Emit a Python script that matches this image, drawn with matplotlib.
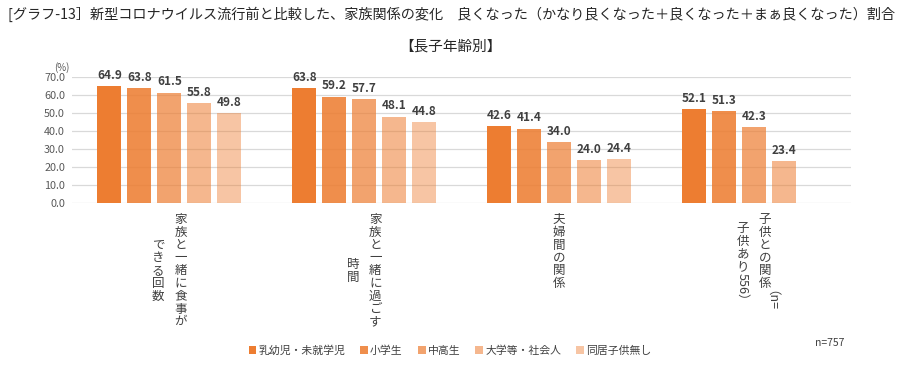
import numpy as np
import matplotlib
matplotlib.use('Agg')
import matplotlib.pyplot as plt
import matplotlib.transforms as mtransforms
from matplotlib.patches import Patch

plt.rcParams['font.family'] = ['Noto Sans CJK JP', 'DejaVu Sans']

# data
categories = ['家族と一緒に食事が\nできる回数',
              '家族と一緒に過ごす\n時間',
              '夫婦間の関係',
              '子供との関係（n=\n子供あり556）']
series_names = ['乳幼児・未就学児', '小学生', '中高生', '大学等・社会人', '同居子供無し']
v_infant = [64.9, 63.8, 42.6, 52.1]
v_elem = [63.8, 59.2, 41.4, 51.3]
v_mid = [61.5, 57.7, 34.0, 42.3]
v_univ = [55.8, 48.1, 24.0, 23.4]
v_none = [49.8, 44.8, 24.4, np.nan]
yticks = [0, 10, 20, 30, 40, 50, 60, 70]

values = [v_infant, v_elem, v_mid, v_univ, v_none]
alphas = [1.0, 0.87, 0.70, 0.55, 0.44]
base = '#ED7D31'

fig = plt.figure(figsize=(9.0, 3.65), dpi=100)
fig.patch.set_facecolor('white')
ax = fig.add_axes([0.08, 0.4447, 0.8656, 0.3435])

x = np.arange(len(categories))
step = 30 / 195.
width = 24 / 195.
for k, vals in enumerate(values):
    pos = x + (k - 2) * step
    ax.bar(pos, vals, width, color=base, alpha=alphas[k], zorder=2,
           label=series_names[k])
    for px, v in zip(pos, vals):
        if np.isnan(v):
            continue
        ax.annotate('%.1f' % v, (px, v), xytext=(0, 3), textcoords='offset points',
                    ha='center', va='bottom', fontsize=8.5, fontweight='bold',
                    color='#404040')

ax.set_xlim(-0.5, len(categories) - 0.5)
ax.set_ylim(0, 70)
ax.set_yticks(yticks)
ax.set_yticklabels(['%.1f' % t for t in yticks], fontsize=7.8, color='#595959')
ax.set_xticks([])
ax.tick_params(axis='y', length=0, pad=5)
ax.grid(axis='y', color='#D9D9D9', linewidth=0.9)
ax.set_axisbelow(True)
for s in ax.spines.values():
    s.set_visible(False)

ax.text(-0.003, 1.035, '(%)', transform=ax.transAxes, fontsize=7, color='#595959',
        ha='right', va='bottom')

# vertical (tategaki) category labels
trans = mtransforms.blended_transform_factory(ax.transData, ax.transAxes)
fs = 9.0
char_h = 9.2      # points per upright character
col_gap = 16.0    # points between columns
top_off = -7.5    # points below axis bottom


def is_upright(c):
    return ord(c) > 0x2E80 and c not in '（）＝'


def col_length(col):
    n = 0.0
    for c in col:
        if is_upright(c) or c in '（）':
            n += char_h
        else:
            n += fs * 0.58
    return n


for i, lab in enumerate(categories):
    cols = lab.split('\n')
    longest = max(col_length(c) for c in cols)
    ncol = len(cols)
    for j, col in enumerate(cols):
        dx = ((ncol - 1) / 2.0 - j) * col_gap
        y = top_off - (longest - col_length(col)) / 2.0
        run = ''
        chars = list(col) + [None]
        for c in chars:
            if c is not None and not is_upright(c):
                run += c
                continue
            if run:
                ax.annotate(run, (i, 0), xycoords=trans, xytext=(dx, y),
                            textcoords='offset points', rotation=270,
                            ha='center', va='top', fontsize=fs, color='#404040')
                y -= col_length(run)
                run = ''
            if c is None:
                break
            ax.annotate(c, (i, 0), xycoords=trans, xytext=(dx, y),
                        textcoords='offset points', ha='center', va='top',
                        fontsize=fs, color='#404040')
            y -= char_h

fig.text(0.009, 0.962, '[グラフ-13］新型コロナウイルス流行前と比較した、家族関係の変化　良くなった（かなり良くなった＋良くなった＋まぁ良くなった）割合',
         fontsize=10.2, color='#262626', ha='left', va='center')
fig.text(0.5, 0.873, '【長子年齢別】', fontsize=10.5, color='#262626',
         ha='center', va='center')
fig.text(0.905, 0.06, 'n=757', fontsize=7.5, color='#404040', ha='left', va='center')

handles = [Patch(facecolor=base, alpha=a) for a in alphas]
fig.legend(handles, series_names, loc='center', bbox_to_anchor=(0.5, 0.04),
           ncol=5, frameon=False, fontsize=7.8, handlelength=0.7, handleheight=0.7,
           handletextpad=0.2, columnspacing=1.4, labelcolor='#404040')

fig.savefig('out.png', dpi=100, facecolor='white')
